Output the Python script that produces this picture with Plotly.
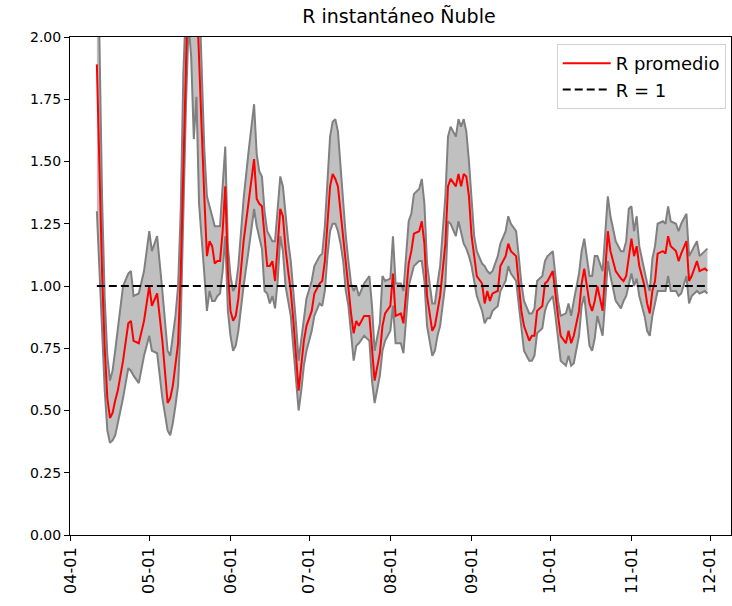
import pandas as pd
import plotly.graph_objects as go

# Days counted from 2020-04-01 for each estimate
day_offset = [
    10, 11, 12, 13, 14, 15, 16, 17, 18, 20, 22, 23, 24, 26, 28, 30, 31, 33, 35, 37,
    38, 39, 40, 41, 42, 43, 44, 45, 46, 47, 48, 49, 50, 51, 52, 53, 54, 55, 56, 57,
    58, 59, 60, 61, 62, 63, 64, 66, 68, 70, 71, 72, 73, 74, 75, 76, 77, 78, 79, 80,
    81, 82, 83, 84, 85, 86, 87, 88, 89, 90, 92, 93, 95, 96, 97, 98, 99, 100, 101, 102,
    103, 104, 105, 106, 107, 108, 109, 110, 112, 114, 115, 116, 118, 119, 120, 122, 123, 124, 126, 127,
    129, 130, 131, 133, 134, 135, 136, 138, 139, 140, 141, 143, 144, 145, 147, 148, 149, 150, 151, 152,
    153, 154, 155, 157, 158, 159, 160, 161, 163, 164, 166, 167, 168, 170, 171, 172, 173, 175, 176, 177,
    178, 180, 181, 182, 184, 185, 186, 187, 189, 190, 191, 192, 194, 195, 196, 198, 199, 200, 201, 203,
    204, 205, 206, 208, 210, 211, 212, 213, 214, 215, 216, 217, 219, 220, 221, 222, 223, 224, 226, 227,
    228, 229, 231, 232, 233, 235, 236, 237, 239, 240, 242, 243,
]

# Mean instantaneous reproduction number
r_mean = [
    1.89, 1.45, 1.05, 0.75, 0.55, 0.47, 0.49, 0.54, 0.58, 0.70, 0.85, 0.86, 0.78, 0.77, 0.86, 1.00, 0.92, 0.97, 0.78, 0.53,
    0.55, 0.60, 0.68, 0.77, 1.05, 1.55, 1.95, 2.30, 2.35, 2.30, 2.20, 1.95, 1.63, 1.36, 1.12, 1.18, 1.16, 1.09, 1.10, 1.10,
    1.22, 1.40, 1.06, 0.90, 0.86, 0.88, 0.95, 1.18, 1.35, 1.51, 1.35, 1.33, 1.32, 1.20, 1.08, 1.08, 1.10, 1.02, 1.15, 1.31,
    1.28, 1.15, 1.06, 0.98, 0.86, 0.72, 0.58, 0.68, 0.78, 0.84, 0.90, 0.97, 1.01, 1.02, 1.10, 1.25, 1.40, 1.45, 1.43, 1.40,
    1.30, 1.20, 1.08, 0.99, 0.89, 0.81, 0.86, 0.84, 0.88, 0.88, 0.74, 0.62, 0.73, 0.84, 0.89, 0.92, 1.05, 0.88, 0.89, 0.85,
    1.09, 1.14, 1.21, 1.22, 1.26, 1.17, 0.96, 0.82, 0.84, 0.90, 0.96, 1.17, 1.40, 1.43, 1.40, 1.45, 1.40, 1.45, 1.44, 1.36,
    1.20, 1.12, 1.04, 1.01, 0.93, 0.98, 0.94, 0.97, 0.98, 1.08, 1.12, 1.17, 1.14, 1.12, 1.01, 0.90, 0.84, 0.78, 0.80, 0.80,
    0.90, 0.92, 1.01, 1.02, 1.06, 0.96, 0.88, 0.80, 0.77, 0.82, 0.77, 0.80, 0.90, 1.01, 1.07, 0.93, 0.90, 0.94, 1.00, 0.90,
    1.05, 1.22, 1.14, 1.06, 1.03, 1.02, 1.04, 1.12, 1.19, 1.12, 1.16, 1.08, 1.00, 0.93, 0.89, 0.98, 1.02, 1.13, 1.14, 1.13,
    1.20, 1.16, 1.14, 1.10, 1.13, 1.18, 1.02, 1.04, 1.10, 1.06, 1.07, 1.06,
]

# Lower bound of the interval
r_low = [
    1.30, 1.05, 0.80, 0.58, 0.42, 0.37, 0.38, 0.40, 0.45, 0.55, 0.67, 0.66, 0.64, 0.61, 0.72, 0.80, 0.74, 0.73, 0.55, 0.42,
    0.40, 0.45, 0.52, 0.60, 0.85, 1.30, 1.72, 2.05, 1.92, 1.59, 1.76, 1.33, 1.20, 1.05, 0.90, 0.98, 0.94, 0.94, 0.96, 0.97,
    1.06, 1.20, 0.90, 0.80, 0.74, 0.76, 0.82, 1.00, 1.15, 1.31, 1.24, 1.20, 1.15, 0.98, 0.97, 0.93, 0.96, 0.91, 1.02, 1.20,
    1.14, 1.00, 0.93, 0.88, 0.75, 0.62, 0.50, 0.58, 0.68, 0.74, 0.82, 0.88, 0.93, 0.92, 0.98, 1.12, 1.22, 1.25, 1.25, 1.22,
    1.17, 1.10, 0.98, 0.92, 0.80, 0.70, 0.76, 0.77, 0.80, 0.78, 0.62, 0.53, 0.64, 0.74, 0.78, 0.82, 0.92, 0.77, 0.77, 0.73,
    1.00, 1.04, 1.08, 1.10, 1.10, 1.02, 0.84, 0.72, 0.74, 0.80, 0.84, 1.01, 1.26, 1.25, 1.20, 1.26, 1.21, 1.17, 1.15, 1.12,
    1.08, 1.02, 0.96, 0.90, 0.85, 0.87, 0.87, 0.90, 0.92, 0.98, 1.02, 1.08, 1.05, 1.02, 0.92, 0.82, 0.74, 0.70, 0.70, 0.72,
    0.81, 0.83, 0.90, 0.93, 0.96, 0.88, 0.78, 0.70, 0.68, 0.72, 0.68, 0.69, 0.80, 0.92, 0.96, 0.76, 0.74, 0.79, 0.88, 0.80,
    0.94, 1.10, 1.04, 0.94, 0.91, 0.94, 0.96, 1.01, 1.05, 1.00, 1.03, 0.96, 0.88, 0.82, 0.80, 0.88, 0.93, 0.98, 0.98, 0.98,
    1.04, 0.98, 0.98, 0.96, 0.97, 1.04, 0.93, 0.96, 0.98, 0.97, 0.98, 0.97,
]

# Upper bound of the interval
r_high = [
    2.60, 2.00, 1.35, 0.95, 0.72, 0.62, 0.66, 0.74, 0.82, 1.00, 1.05, 1.06, 0.96, 0.97, 1.06, 1.22, 1.14, 1.20, 0.98, 0.74,
    0.72, 0.80, 0.88, 1.00, 1.30, 1.85, 2.25, 2.60, 2.70, 2.60, 2.50, 2.20, 1.90, 1.55, 1.36, 1.32, 1.28, 1.24, 1.24, 1.24,
    1.40, 1.56, 1.16, 1.04, 0.98, 1.00, 1.08, 1.35, 1.55, 1.73, 1.53, 1.46, 1.44, 1.30, 1.22, 1.20, 1.18, 1.18, 1.30, 1.44,
    1.40, 1.28, 1.18, 1.10, 0.98, 0.85, 0.70, 0.78, 0.88, 0.95, 1.02, 1.08, 1.12, 1.13, 1.24, 1.45, 1.60, 1.66, 1.67, 1.62,
    1.47, 1.34, 1.20, 1.10, 1.01, 0.98, 1.00, 0.96, 1.01, 1.04, 0.92, 0.74, 0.85, 1.04, 1.02, 1.03, 1.20, 1.01, 1.01, 0.98,
    1.26, 1.29, 1.37, 1.39, 1.43, 1.33, 1.09, 0.93, 0.93, 1.01, 1.08, 1.36, 1.60, 1.64, 1.60, 1.67, 1.64, 1.67, 1.62, 1.50,
    1.33, 1.20, 1.14, 1.09, 1.08, 1.06, 1.05, 1.06, 1.12, 1.17, 1.22, 1.28, 1.25, 1.22, 1.12, 1.01, 0.94, 0.89, 0.89, 0.91,
    1.02, 1.04, 1.10, 1.12, 1.14, 1.04, 0.94, 0.88, 0.89, 0.93, 0.88, 0.94, 1.05, 1.14, 1.19, 1.04, 1.04, 1.12, 1.12, 1.06,
    1.22, 1.36, 1.28, 1.18, 1.14, 1.14, 1.18, 1.31, 1.32, 1.22, 1.28, 1.16, 1.06, 1.01, 0.98, 1.11, 1.16, 1.25, 1.26, 1.25,
    1.32, 1.26, 1.25, 1.22, 1.25, 1.29, 1.12, 1.14, 1.18, 1.12, 1.14, 1.15,
]

y_ticks = [0.0, 0.25, 0.5, 0.75, 1.0, 1.25, 1.5, 1.75, 2.0]
month_ticks = ["2020-04-01", "2020-05-01", "2020-06-01", "2020-07-01", "2020-08-01",
               "2020-09-01", "2020-10-01", "2020-11-01", "2020-12-01"]
month_labels = ["04-01", "05-01", "06-01", "07-01", "08-01", "09-01", "10-01", "11-01", "12-01"]

dates = pd.Timestamp("2020-04-01") + pd.to_timedelta(day_offset, unit="D")
ref_dates = [dates[0], dates[-1]]
ref_values = [1.0, 1.0]

fig = go.Figure()

# Confidence band: lower edge, then upper edge filled down to it
fig.add_trace(go.Scatter(
    x=dates, y=r_low, mode="lines",
    line=dict(color="#808080", width=2), showlegend=False, hoverinfo="skip",
))
fig.add_trace(go.Scatter(
    x=dates, y=r_high, mode="lines", fill="tonexty", fillcolor="#c0c0c0",
    line=dict(color="#808080", width=2), showlegend=False, hoverinfo="skip",
))
fig.add_trace(go.Scatter(
    x=dates, y=r_mean, mode="lines", name="R promedio", legendgroup="a",
    line=dict(color="red", width=2),
))
fig.add_trace(go.Scatter(
    x=ref_dates, y=ref_values, mode="lines", name="R = 1", legendgroup="b",
    line=dict(color="black", width=2, dash="8px,4px"),
))

ytick_font = dict(family="DejaVu Sans", size=14, color="black")
xtick_font = dict(family="DejaVu Sans", size=16, color="black")

fig.update_layout(
    width=732, height=606, autosize=False,
    margin=dict(l=70, r=1, t=37, b=71),
    plot_bgcolor="white", paper_bgcolor="white",
    font=dict(family="DejaVu Sans", size=14, color="black"),
    title=dict(text="R instantáneo Ñuble", x=0.545, xanchor="center",
               y=1 - 16 / 606, yanchor="middle",
               font=dict(family="DejaVu Sans", size=19, color="black")),
    legend=dict(
        x=0.992, y=0.986, xanchor="right", yanchor="top",
        traceorder="normal",
        bgcolor="rgba(255,255,255,0.85)", bordercolor="#d0d0d0", borderwidth=1,
        font=dict(family="DejaVu Sans", size=18, color="black"),
        itemwidth=48, tracegroupgap=2,
    ),
    xaxis=dict(
        range=["2020-03-31T18:00", "2020-12-09"],
        tickvals=month_ticks, ticktext=month_labels, tickangle=-90,
        showgrid=False, zeroline=False,
        showline=True, linecolor="black", linewidth=1, mirror=True,
        ticks="outside", ticklen=5, tickcolor="black",
        tickfont=xtick_font,
    ),
    yaxis=dict(
        range=[0, 2], tickvals=y_ticks, tickformat=".2f",
        showgrid=False, zeroline=False,
        showline=True, linecolor="black", linewidth=1, mirror=True,
        ticks="outside", ticklen=5, tickcolor="black",
        tickfont=ytick_font,
    ),
)

fig.write_html("out.html")
